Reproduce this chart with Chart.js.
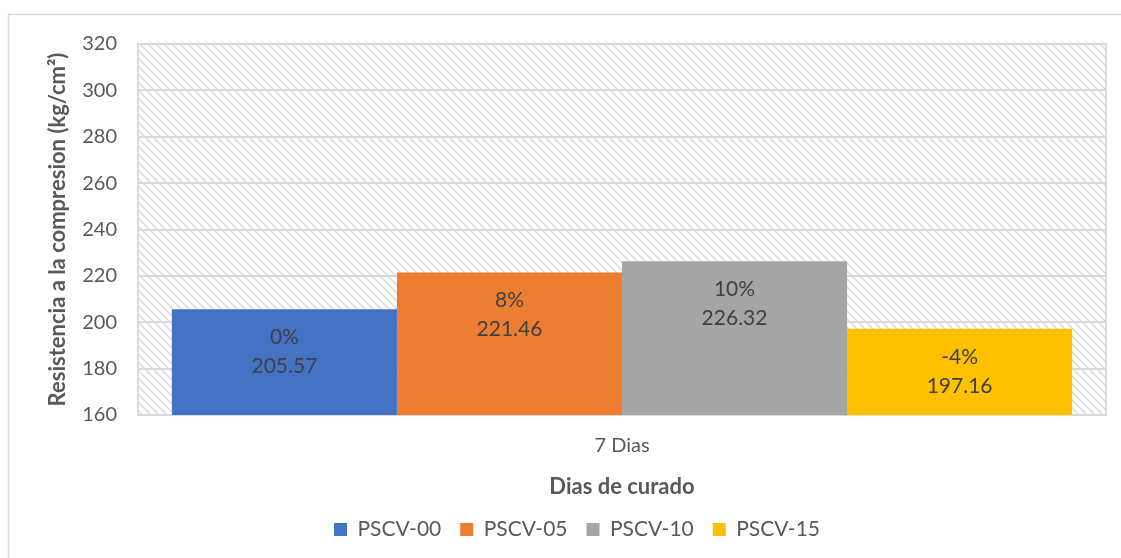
<!DOCTYPE html>
<html>
<head>
<meta charset="utf-8">
<script src="https://cdn.jsdelivr.net/npm/chart.js@4/dist/chart.umd.min.js"></script>
<style>
  html, body { margin: 0; padding: 0; background: #ffffff; }
  #wrap { width: 1121px; height: 558px; position: relative; }
</style>
</head>
<body>
<div id="wrap"><canvas id="c" width="1121" height="558"></canvas></div>
<script>
const categories = ["7 Dias"];
const seriesNames = ["PSCV-00", "PSCV-05", "PSCV-10", "PSCV-15"];
const seriesValues = [205.57, 221.46, 226.32, 197.16];
const pctLabels = ["0%", "8%", "10%", "-4%"];
const seriesColors = ["#4472C4", "#ED7D31", "#A5A5A5", "#FFC000"];
const yTicks = { min: 160, max: 320, step: 20 };

const FONT = "Lato, 'Open Sans', sans-serif";

function makePattern(ctx) {
  const p = document.createElement('canvas');
  p.width = 8; p.height = 8;
  const g = p.getContext('2d');
  g.fillStyle = '#ffffff';
  g.fillRect(0, 0, 8, 8);
  g.strokeStyle = '#dadada';
  g.lineWidth = 1.5;
  g.beginPath();
  g.moveTo(-2, -2); g.lineTo(10, 10);
  g.moveTo(-10, -2); g.lineTo(2, 10);
  g.moveTo(6, -2); g.lineTo(18, 10);
  g.stroke();
  return ctx.createPattern(p, 'repeat');
}

const bgPlugin = {
  id: 'bg',
  beforeDraw(chart) {
    const { ctx, chartArea: a } = chart;
    ctx.save();
    ctx.fillStyle = '#ffffff';
    ctx.fillRect(0, 0, chart.width, chart.height);
    ctx.strokeStyle = '#d9d9d9';
    ctx.lineWidth = 1.5;
    ctx.strokeRect(8.5, 14.5, 1200, 700);
    ctx.fillStyle = makePattern(ctx);
    ctx.fillRect(a.left, a.top, a.right - a.left, a.bottom - a.top);
    ctx.restore();
  },
  beforeDatasetsDraw(chart) {
    const { ctx, chartArea: a } = chart;
    ctx.save();
    ctx.strokeStyle = '#d9d9d9';
    ctx.lineWidth = 2;
    ctx.strokeRect(a.left, a.top, a.right - a.left, a.bottom - a.top);
    ctx.restore();
  }
};

const labelPlugin = {
  id: 'barLabels',
  afterDatasetsDraw(chart) {
    const { ctx } = chart;
    ctx.save();
    ctx.fillStyle = '#404040';
    ctx.font = "21px " + FONT;
    ctx.textAlign = 'center';
    ctx.textBaseline = 'middle';
    chart.data.datasets.forEach((ds, i) => {
      const bar = chart.getDatasetMeta(i).data[0];
      ctx.fillText(pctLabels[i], bar.x, bar.y + 28);
      ctx.fillText(seriesValues[i].toFixed(2), bar.x, bar.y + 57);
    });
    ctx.restore();
  }
};

new Chart(document.getElementById('c'), {
  type: 'bar',
  data: {
    labels: categories,
    datasets: seriesNames.map((n, i) => ({
      label: n,
      data: [seriesValues[i]],
      backgroundColor: seriesColors[i],
      borderWidth: 0,
      categoryPercentage: 0.93,
      barPercentage: 1.0
    }))
  },
  options: {
    responsive: false,
    animation: false,
    layout: { padding: { left: 48, right: 15, top: 44, bottom: 8 } },
    plugins: {
      tooltip: { enabled: false },
      legend: {
        position: 'bottom',
        labels: {
          font: { family: FONT, size: 21 },
          color: '#595959',
          boxWidth: 13,
          boxHeight: 13,
          padding: 19
        }
      }
    },
    scales: {
      x: {
        grid: { display: false, drawTicks: false },
        border: { display: false },
        ticks: { color: '#595959', font: { family: FONT, size: 20 }, padding: 19 },
        title: {
          display: true,
          text: 'Dias de curado',
          color: '#595959',
          font: { family: FONT, size: 22, weight: 'bold' },
          padding: { top: 0, bottom: 0 }
        },
        afterFit(s) { s.height = 85; }
      },
      y: {
        min: yTicks.min,
        max: yTicks.max,
        grid: { color: '#d9d9d9', lineWidth: 2, drawTicks: false },
        border: { display: false },
        ticks: {
          stepSize: yTicks.step,
          color: '#595959',
          font: { family: FONT, size: 20 },
          padding: 21
        },
        title: {
          display: true,
          text: 'Resistencia a la compresion (kg/cm²)',
          color: '#595959',
          font: { family: FONT, size: 22, weight: 'bold' },
          padding: { top: -3, bottom: 0 }
        },
        afterFit(s) { s.width = 90; }
      }
    }
  },
  plugins: [bgPlugin, labelPlugin]
});
</script>
</body>
</html>
